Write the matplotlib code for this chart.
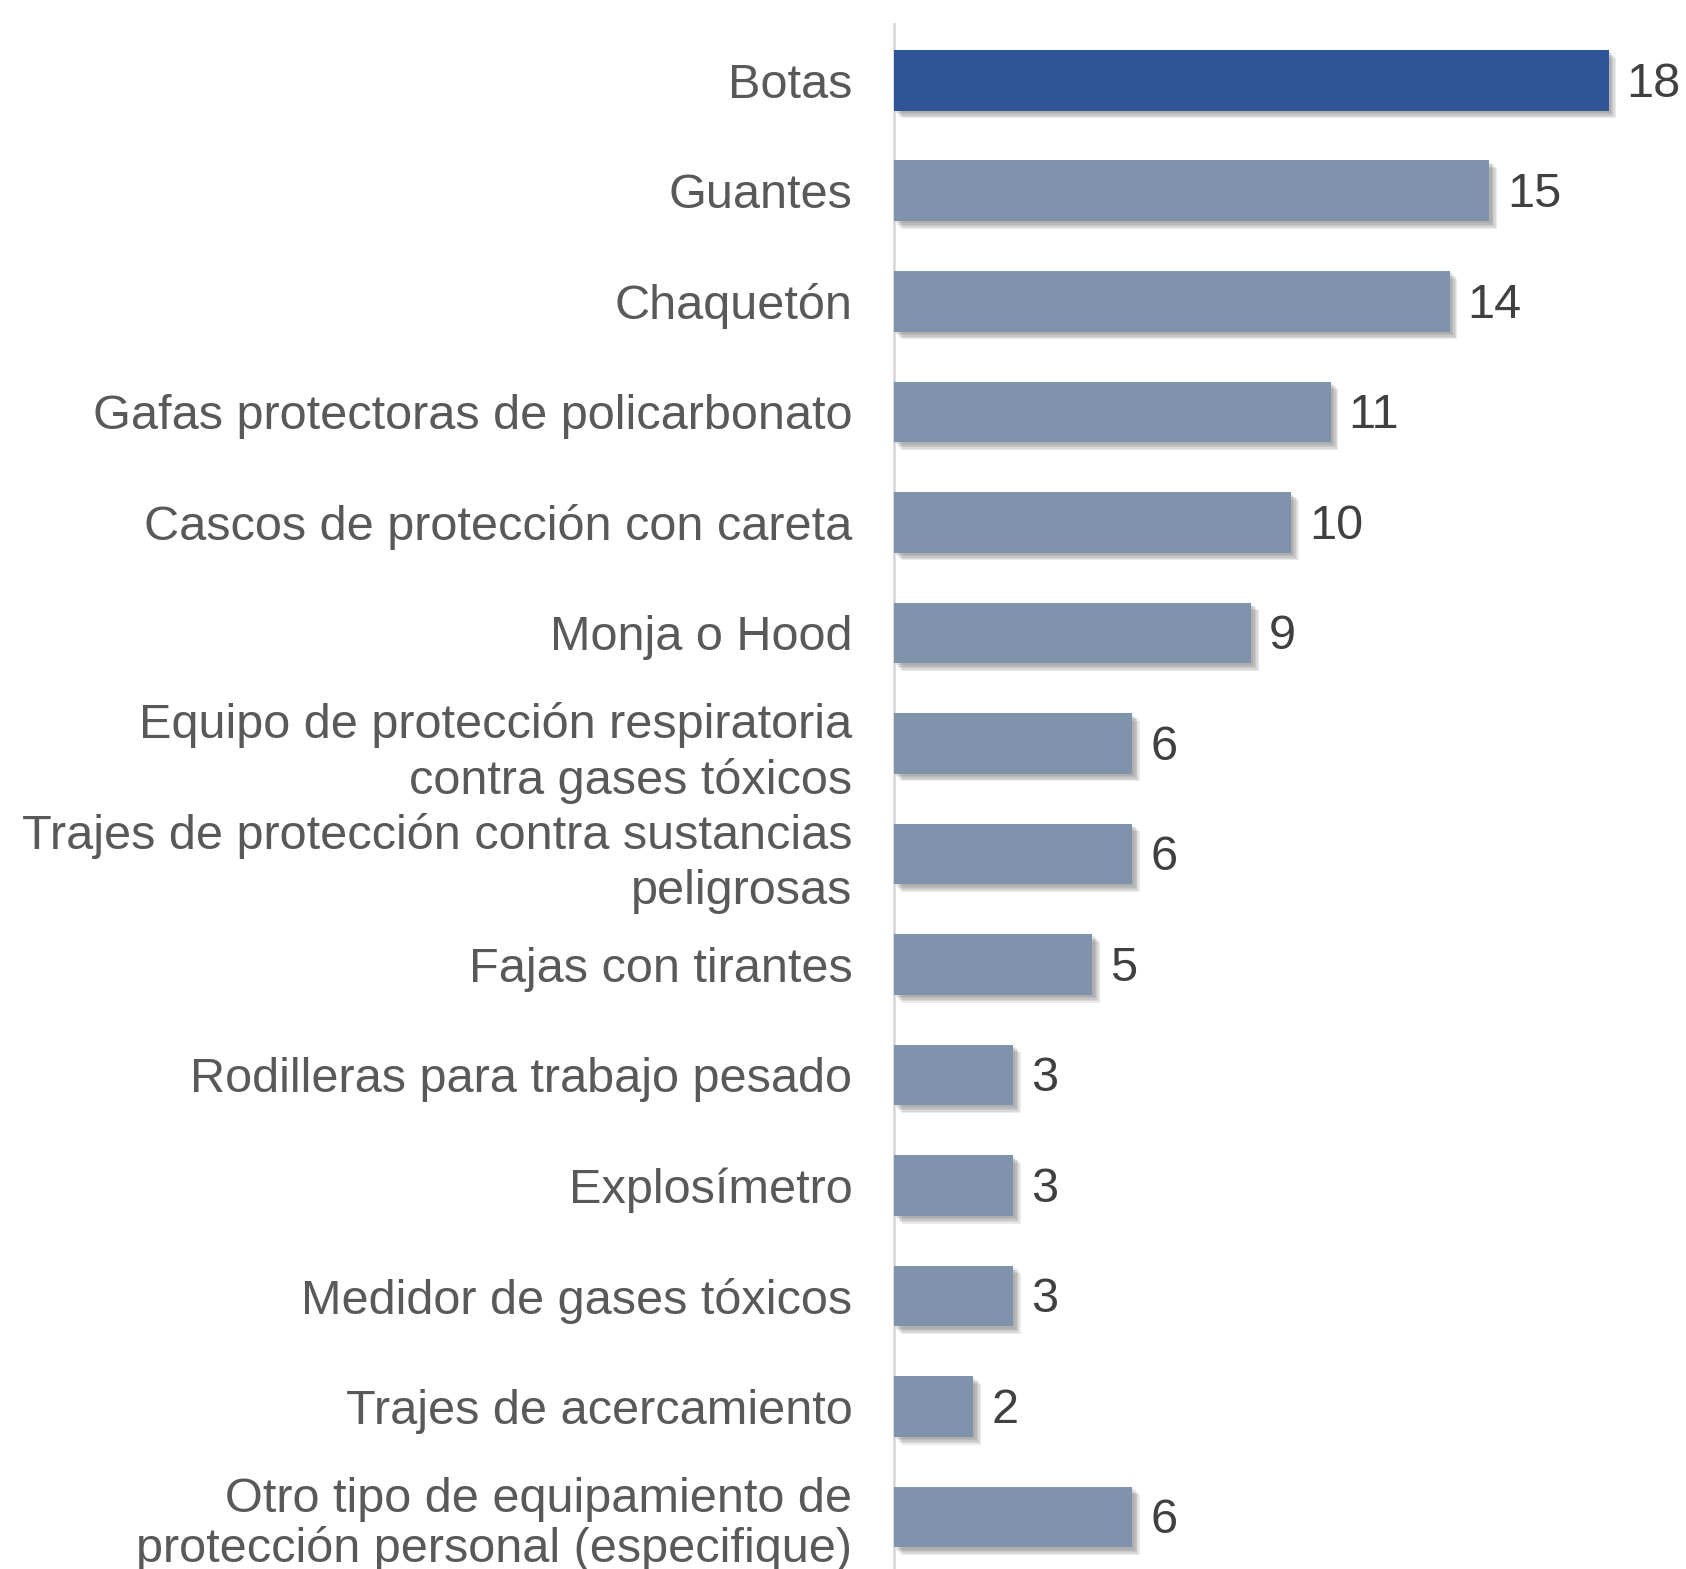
import matplotlib.pyplot as plt
import matplotlib.patheffects as pe

plt.rcParams['font.family'] = ['Liberation Sans', 'DejaVu Sans']

items = [
    'Botas',
    'Guantes',
    'Chaquetón',
    'Gafas protectoras de policarbonato',
    'Cascos de protección con careta',
    'Monja o Hood',
    'Equipo de protección respiratoria\ncontra gases tóxicos',
    'Trajes de protección contra sustancias\npeligrosas',
    'Fajas con tirantes',
    'Rodilleras para trabajo pesado',
    'Explosímetro',
    'Medidor de gases tóxicos',
    'Trajes de acercamiento',
    'Otro tipo de equipamiento de\nprotección personal (especifique)',
]
counts = [18, 15, 14, 11, 10, 9, 6, 6, 5, 3, 3, 3, 2, 6]

bar_colors = ['#2F5597'] + ['#7F93AD'] * (len(items) - 1)

fig = plt.figure(figsize=(16.86, 15.69), dpi=100)
ax = fig.add_axes([894 / 1686, 0, 1 - 894 / 1686, 1 - 24 / 1569])

ypos = list(range(len(items)))
# soft drop shadow, built from a few faint offset copies
shadow = [pe.SimplePatchShadow(offset=(k, -k), shadow_rgbFace='#606060', alpha=0.13)
          for k in (1.5, 2.5, 3.5, 4.5, 5.5)] + [pe.Normal()]
bars = ax.barh(ypos, counts, height=0.55, color=bar_colors, zorder=3)
for b in bars:
    b.set_path_effects(shadow)

for y, v in zip(ypos, counts):
    ax.text(v + 0.45, y + 0.035, str(v), va='center', ha='left', fontsize=35,
            color='#404040')

ax.set_yticks(ypos)
ax.set_yticklabels(items, fontsize=35, color='#595959', linespacing=1.27)
# last label sits on the bottom edge, keep its lines a bit tighter
ax.get_yticklabels()[-1].set_linespacing(1.12)
ax.tick_params(axis='y', length=0, pad=30)
ax.set_xticks([])
ax.set_xlim(0, 19.95)
ax.set_ylim(13.47, -0.51)

for side in ['top', 'right', 'bottom']:
    ax.spines[side].set_visible(False)
ax.spines['left'].set_color('#D9D9D9')
ax.spines['left'].set_linewidth(2)

fig.savefig('out.png', dpi=100)
